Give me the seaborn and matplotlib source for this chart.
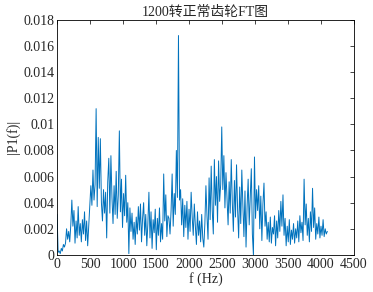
import numpy as np
import pandas as pd
import seaborn as sns
import matplotlib
matplotlib.use('Agg')
import matplotlib.pyplot as plt
from matplotlib.ticker import FuncFormatter

# амплитудный спектр, значения в единицах 1e-3, шаг 16 Гц
p1_milli = [
    3.1, 0.2, 0.3, 0.1, 0.5, 0.3, 0.8, 0.6, 0.9, 2.0, 1.2, 1.8, 1.0, 2.3, 4.2, 2.2, 3.4, 0.9, 2.6, 1.3, 3.7, 1.5, 2.4, 1.0, 2.7,
    1.6, 3.3, 1.1, 2.6, 0.7, 2.2, 3.6, 5.3, 3.8, 6.5, 4.2, 5.4, 11.2, 3.7, 9.0, 5.1, 8.9, 4.0, 2.6, 5.0, 3.2, 4.8, 1.3, 5.6, 7.4,
    3.2, 7.6, 4.4, 2.4, 5.3, 3.1, 6.4, 2.8, 4.6, 9.5, 3.3, 5.8, 2.1, 4.7, 3.0, 6.1, 2.5, 4.0, 0.1, 3.6, 1.8, 3.2, 1.2, 2.5, 0.8,
    2.9, 1.6, 3.7, 1.9, 3.9, 1.0, 2.8, 4.0, 1.5, 3.1, 0.7, 2.4, 4.8, 1.3, 3.3, 0.5, 2.7, 1.7, 3.5, 0.4, 2.8, 1.5, 3.6, 1.0, 2.4,
    1.2, 6.2, 2.6, 4.6, 1.4, 3.0, 2.8, 1.6, 3.4, 6.2, 2.2, 4.7, 3.1, 8.0, 4.4, 16.8, 4.2, 5.0, 2.3, 4.3, 1.4, 3.8, 2.1, 4.1, 1.2,
    3.5, 1.8, 4.8, 2.9, 1.5, 3.9, 2.2, 0.8, 3.3, 1.5, 2.6, 1.0, 3.1, 1.3, 0.6, 2.4, 5.3, 3.0, 1.2, 5.9, 2.7, 6.8, 3.4, 1.6, 7.3,
    3.8, 6.0, 2.5, 7.2, 4.1, 5.4, 9.8, 5.0, 7.6, 3.6, 6.3, 4.4, 2.3, 5.6, 3.2, 7.3, 4.0, 1.8, 5.7, 2.9, 6.9, 3.5, 1.3, 5.2, 2.4,
    6.5, 3.8, 1.4, 4.9, 0.6, 3.7, 5.8, 2.3, 4.4, 6.6, 1.6, 0.0, 7.5, 2.8, 5.0, 3.4, 5.3, 2.0, 4.5, 1.1, 3.9, 5.5, 2.2, 3.3, 1.2,
    2.5, 1.0, 2.9, 0.9, 2.1, 1.6, 3.0, 0.7, 2.6, 1.3, 3.4, 1.8, 4.1, 2.2, 4.6, 1.5, 2.8, 0.7, 2.2, 1.0, 2.7, 0.8, 1.9, 1.2, 2.4,
    0.9, 2.0, 1.3, 2.6, 1.0, 3.0, 1.7, 2.5, 1.1, 5.8, 2.3, 3.9, 1.5, 2.8, 1.0, 3.3, 1.8, 5.1, 2.1, 3.6, 1.2, 2.4, 1.6, 2.9, 1.3,
    2.2, 1.5, 2.7, 1.4, 2.0, 1.6, 1.8,
]
df_step = 16

df = pd.DataFrame({'f': np.arange(len(p1_milli)) * df_step,
                   'P1': np.array(p1_milli) * 1e-3})

sns.set_style('white')
plt.rcParams['font.family'] = ['Liberation Serif', 'Noto Sans CJK SC']
plt.rcParams['font.size'] = 10

fig = plt.figure(figsize=(3.73, 2.92), dpi=100)
ax = fig.add_axes([0.153, 0.127, 0.796, 0.805])

sns.lineplot(data=df, x='f', y='P1', ax=ax, color='#0072BD', linewidth=0.7)

ax.set_xlim(0, 4500)
ax.set_ylim(0, 0.018)
ax.set_xticks(np.arange(0, 4501, 500))
ax.set_yticks(np.arange(0, 0.0181, 0.002))
ax.yaxis.set_major_formatter(FuncFormatter(lambda v, p: '%g' % round(v, 4)))
ax.tick_params(direction='in', top=True, right=True, length=3, width=0.6,
               labelsize=10, pad=2)
for s in ax.spines.values():
    s.set_color('black')
    s.set_linewidth(0.6)

ax.set_title('1200转正常齿轮FT图', fontsize=10, pad=3)
ax.set_xlabel('f (Hz)', fontsize=10, labelpad=1)
ax.set_ylabel('|P1(f)|', fontsize=10, labelpad=2)

fig.savefig('out.png', dpi=100)
